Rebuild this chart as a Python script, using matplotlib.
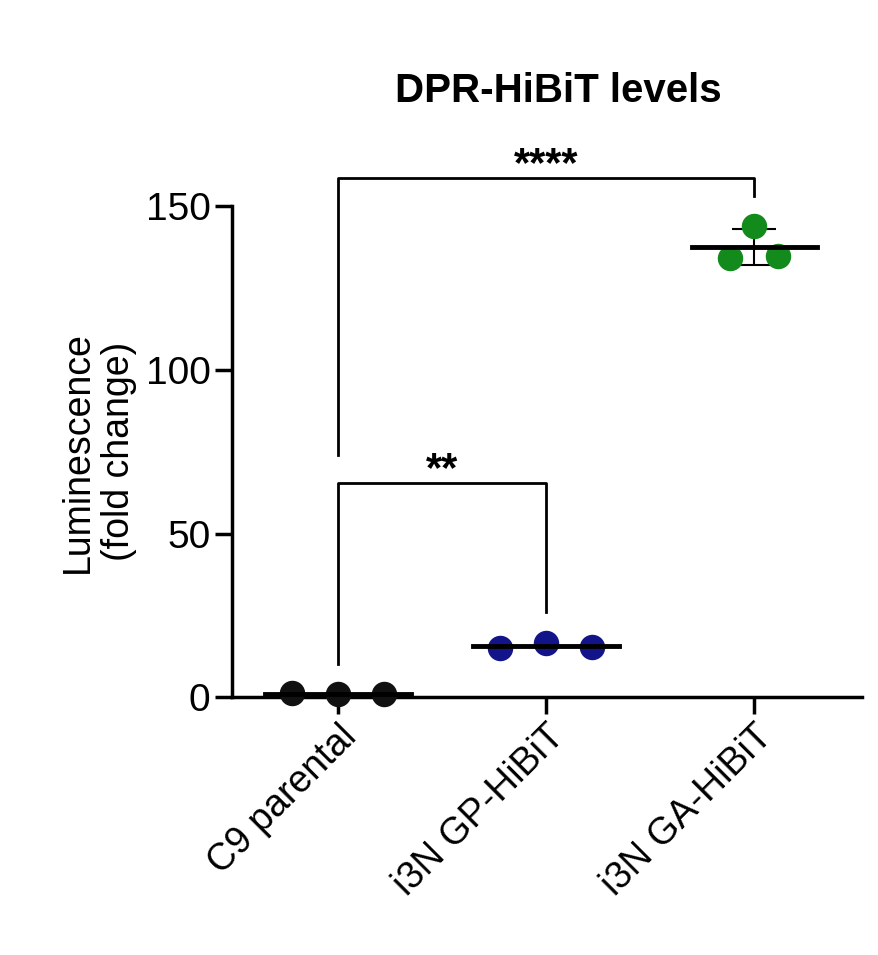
import matplotlib.pyplot as plt
import numpy as np

plt.rcParams["font.family"] = "Liberation Sans"

categories = ["C9 parental", "i3N GP-HiBiT", "i3N GA-HiBiT"]
c9_vals = [1.2, 1.0, 1.0]
gp_vals = [15.0, 16.5, 15.3]
ga_vals = [134.1, 143.9, 134.7]
groups = [c9_vals, gp_vals, ga_vals]
colors = ["#111111", "#14148a", "#138a1c"]
yticks = [0, 50, 100, 150]

fig = plt.figure(figsize=(8.79, 9.55), dpi=100)
ax = fig.add_axes([0.264, 0.270, 0.717, 0.514])

spread = [0.22, 0.22, 0.115]
for i, vals in enumerate(groups):
    xs = i + np.array([-1, 0, 1]) * spread[i]
    ax.scatter(xs, vals, s=300, color=colors[i], zorder=3, clip_on=False)
    m = np.mean(vals)
    sd = np.std(vals, ddof=1)
    half = 0.35 if i < 2 else 0.3
    ax.plot([i - half, i + half], [m, m], color="black", lw=3.5, zorder=4)
    if sd > 1:
        ax.errorbar(i, m, yerr=sd, color="black", lw=1.5, capsize=16, capthick=1.5, zorder=2)

def bracket(x1, x2, y, y1, y2, text):
    ax.plot([x1, x1, x2, x2], [y1, y, y, y2], color="black", lw=2, clip_on=False)
    ax.text((x1 + x2) / 2, y - 2, text, ha="center", va="bottom", fontsize=30, fontweight="bold")

bracket(0, 1, 65.4, 10, 26, "**")
bracket(0, 2, 158.6, 74, 153, "****")

ax.set_xlim(-0.51, 2.52)
ax.set_ylim(0, 150)
ax.set_yticks(yticks)
ax.set_yticklabels([str(t) for t in yticks], fontsize=28)
ax.set_xticks(range(3))
ax.set_xticklabels(categories, rotation=45, ha="right", rotation_mode="anchor", fontsize=27)
ax.tick_params(axis="both", width=2.5, length=12)
for s in ["top", "right"]:
    ax.spines[s].set_visible(False)
for s in ["left", "bottom"]:
    ax.spines[s].set_linewidth(2.5)
ax.set_ylabel("Luminescence\n(fold change)", fontsize=27, labelpad=6)
fig.text(0.635, 0.905, "DPR-HiBiT levels", ha="center", va="center", fontsize=29, fontweight="bold")

fig.savefig("out.png")
